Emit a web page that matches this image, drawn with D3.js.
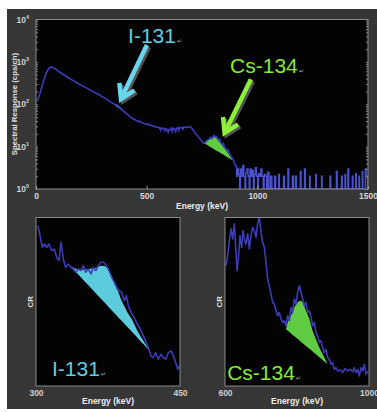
<!DOCTYPE html>
<html>
<head>
<meta charset="utf-8">
<script src="https://cdn.jsdelivr.net/npm/d3@7"></script>
<style>
  body { margin: 0; background: #fff; }
  svg { display: block; }
  text { font-family: "Liberation Sans", Arial, sans-serif; }
</style>
</head>
<body>
<svg id="chart" width="377" height="412"></svg>
<script>
// ---- overview spectrum (keV, cps/ch) ----
const overviewMain = [
  [0,118],[8,128],[15,160],[22,215],[30,300],[38,410],[45,520],[53,640],[60,720],[66,752],[72,748],
  [80,722],[90,670],[100,600],[115,540],[130,478],[150,410],[170,356],[190,310],[210,272],[230,240],
  [250,210],[270,185],[285,170],[295,156],[305,145],[315,136],[325,124],[335,114],[345,106],[352,101],
  [358,99],[364,97],[370,92],[376,86],[384,78],[392,72],[400,66],[408,60],[416,56],[424,52],[432,48],
  [440,45],[448,43],[456,41],[464,39],[470,40],[476,37],[484,36],[492,34.5],[500,33.5],[508,34],
  [514,32],[520,31.5],[528,31],[534,29.5],[540,30],[546,28.5],[552,29],[558,27.5],[563,24.5],
  [567,27.5],[572,26.5],[578,27],[583,23.5],[587,26.5],[592,25.5],[597,22],[601,25.5],[607,25],
  [612,27],[616,23],[620,27.5],[626,26],[631,22.5],[635,27],[640,28],[645,24],[649,28.5],[654,27.5],
  [660,28],[664,25.5],[668,29],[674,28.5],[680,29],[686,28.5],[692,29.5],[698,29],[703,27.5],
  [708,25.5],[713,23.5],[718,21.5],[724,19.5],[730,18],[736,16.5],[742,15],[748,13.5],[754,12.5],
  [760,12],[766,12.8],[772,13.8],[778,14.6],[784,15.3],[790,16.5],[795,15.5],[800,17],[806,18.2],
  [810,16.8],[815,17.2],[820,15.5],[826,14],[830,14.8],[836,12],[842,11.2],[846,11.8],[852,9.5],
  [858,9],[864,7.8],[868,8.2],[874,6.8],[880,6],[886,5.4],[892,4.8],[898,3.8],[902,3.5]
];
const overviewTail = [
  [902,3.5],[906,2],[911,3],[916,2.2],[920,1],[924,3],[929,2],[934,3.6],[939,2],[944,1],[948,2.4],
  [953,3],[958,2],[963,1],[967,3],[972,2],[977,2.8],[982,1],[986,2.2],[991,3.2],[996,2],[1001,1],
  [1005,2.3],[1010,2],[1016,3],[1021,2],[1026,1],[1031,2.2],[1037,2],[1042,1],[1047,2.5],[1053,1],
  [1060,2],[1066,1],[1078,2],[1083,1],[1096,2.2],[1100,1],[1118,2],[1123,1],[1138,3],[1142,1],
  [1158,2],[1163,1],[1172,2],[1177,1],[1194,2.6],[1198,1],[1213,3],[1217,1],[1236,2],[1239,1],
  [1264,2.2],[1267,1],[1290,2],[1293,1],[1328,2],[1332,1],[1357,2.6],[1361,1],[1380,2],[1384,1],
  [1396,2.2],[1399,1],[1409,3],[1413,1],[1429,2],[1432,1],[1444,2.3],[1447,1],[1459,2],[1462,1],
  [1474,2.6],[1477,1],[1488,3],[1492,2],[1497,1],[1500,1]
];
// peak areas on overview: [keV, top, base]
const overviewI131Peak = [
  [354,98,98],[362,99,91],[370,95,85],[378,87,79],[386,78,73],[394,70,68],[402,64,63],[408,60,60]
];
const overviewCs134Peak = [
  [760,12,12],[772,13.8,11],[784,15.2,10.1],[796,16.8,9.3],[806,17.8,8.6],[816,15.8,8],[826,13.8,7.5],
  [836,11.8,7],[846,10,6.5],[856,8.6,6],[866,7.3,5.6],[876,6,5.2],[888,4.8,4.8]
];
const overviewXTicks = [0, 500, 1000, 1500];
const overviewYTicks = [1, 10, 100, 1000, 10000];
// annotations in data units: [keV, cps]
const arrowI131 = [[501, 2500], [384, 133]];
const arrowCs134 = [[971, 390], [852, 21]];
const labelI131 = [416, 2760];
const labelCs134 = [877, 545];

// ---- detail spectra (keV, CR) ----
const i131Detail = [
  [301.7,95.2],[303.1,92.3],[305.2,86.3],[306.6,82.3],[308.7,84.3],[311.1,82.3],[313.5,84.3],
  [316.3,80.4],[319.1,81.3],[321.5,76.4],[324,74.4],[326,85.3],[328.5,75.4],[330.9,70.4],
  [333.7,72.4],[336.5,70.4],[338.9,69.4],[341.3,67.5],[344.1,69.4],[346.9,68.5],[349.3,71.4],
  [351.7,67.5],[354.5,69.4],[357.3,66.5],[359.7,70.4],[362.2,68.5],[364.9,71.4],[367.7,73.4],
  [370.5,73.4],[373.3,71.4],[376.1,68.5],[378.8,64.5],[381.6,61.5],[384,58.5],[386.5,56.5],
  [389.2,55.6],[392,50.6],[394.1,53.6],[396.2,47.6],[399,43.7],[401.4,41.7],[403.8,38.7],
  [406.6,35.7],[409.4,32.7],[411.8,29.8],[414.2,26.8],[417,22.8],[419.8,17.9],[422.2,16.9],
  [424.6,19.8],[427.4,15.9],[430.2,18.8],[432.6,16.9],[435.1,15.9],[437.8,19.8],[440.6,20.8],
  [443.1,17.9],[445.5,13.9],[447.6,9.9],[449.3,11.9]
];
const i131Peak = [
  [335.4,71.4,71.4],[340.6,69.8,68.2],[347.6,69,64],[354.5,69.5,59.8],[361.5,70,55.5],
  [368.4,71.4,51.3],[371.9,71,49.2],[375.3,69,47.1],[378.8,65.5,45],[382.2,60.5,42.9],
  [385.8,55.6,40.7],[389.2,50.6,38.7],[392.7,46.6,36.5],[396.2,42.7,34.4],[399.7,39.7,32.3],
  [403.1,35.7,30.2],[406.6,31.7,28.1],[411.8,26.8,24.9],[418.7,20.8,20.8]
];
const cs134Detail = [
  [602.8,71.4],[607.4,77.4],[612,86.3],[616.7,93.3],[621.3,87.3],[625.9,96.2],[630.6,79.4],
  [633.3,68.5],[637,75.4],[641.7,89.3],[646.3,82.3],[650,92.3],[653.7,87.3],[658.3,84.3],
  [663,90.3],[667.6,81.3],[672.2,89.3],[676.8,94.2],[681.5,92.3],[686.1,88.3],[690.7,96.2],
  [695.4,100.5],[700,91.3],[704.6,85.3],[709.3,82.3],[713.9,73.4],[718.5,63.5],[723.1,59.5],
  [727.8,54.6],[732.4,49.6],[737,48.6],[741.7,44.6],[746.3,41.7],[750.9,43.7],[755.6,39.7],
  [760.2,37.7],[764.8,38.7],[769.4,35.7],[774.1,41.7],[778.7,38.7],[783.3,46.6],[788,43.7],
  [792.6,51.6],[797.2,48.6],[801.9,55.6],[806.5,59.5],[811.1,55.6],[815.7,51.6],[820.4,47.6],
  [825,49.6],[829.6,43.7],[834.3,44.6],[838.9,40.7],[843.5,35.7],[848.1,37.7],[852.8,31.7],
  [857.4,29.8],[862,25.8],[866.7,26.8],[871.3,22.8],[875.9,19.8],[880.6,21.8],[885.2,16.9],
  [889.8,15.9],[894.4,12.9],[899.1,13.9],[903.7,9.9],[908.3,10.9],[913,8.9],[920.4,9.5],
  [926.9,7.9],[933.3,10.3],[940.7,8.9],[948.1,9.9],[954.6,8.3],[959.3,10.9],[963.9,7.9],
  [968.5,9.9],[973.1,6],[977.8,10.9],[982.4,8.9],[987,12.9],[991.7,6.9],[996.3,8.9]
];
const cs134Peak = [
  [769.4,33.7,33.7],[774.1,37.7,32.9],[783.3,41.7,31.2],[792.6,46.6,29.5],[801.9,49.6,27.9],
  [809.3,50.6,26.6],[816.7,49.2,25.2],[825,44.6,23.8],[834.3,39.7,22.1],[843.5,32.7,20.5],
  [852.8,27.8,18.8],[862,22.8,17.1],[871.3,18.8,15.5],[880.6,14.9,13.8],[885.2,12.9,12.9]
];
const i131Ticks = [300, 450];
const cs134Ticks = [600, 1000];
const detailLabelI131 = [316.7, 6];
const detailLabelCs134 = [606, 3.5];

const CYAN = "#62cde0", CYAN_FILL = "#5ccbdc", GREEN = "#88e83c", GREEN_FILL = "#5fcc44";
const LINE = "#3c3cb4";

const svg = d3.select("#chart");

// slide background
svg.append("rect").attr("x", 7).attr("y", 9).attr("width", 370).attr("height", 400).attr("fill", "#363636");

function arrow(g, pts, color, sx, sy) {
  const p0 = [sx(pts[0][0]), sy(pts[0][1])], p1 = [sx(pts[1][0]), sy(pts[1][1])];
  const ang = Math.atan2(p0[1] - p1[1], p0[0] - p1[0]);
  const len = 16, spread = 0.55;
  const a1 = [p1[0] + len * Math.cos(ang - spread), p1[1] + len * Math.sin(ang - spread)];
  const a2 = [p1[0] + len * Math.cos(ang + spread), p1[1] + len * Math.sin(ang + spread)];
  const tipIn = [p1[0] + 3 * Math.cos(ang), p1[1] + 3 * Math.sin(ang)];
  const d = `M${p0}L${tipIn}M${a1}L${p1}L${a2}`;
  g.append("path").attr("d", d).attr("transform", "translate(2,2)")
    .attr("fill", "none").attr("stroke", "#555").attr("stroke-width", 4.5);
  g.append("path").attr("d", d).attr("fill", "none").attr("stroke", color)
    .attr("stroke-width", 4.5).attr("stroke-linejoin", "miter");
}

function label(g, x, y, txt, color) {
  const t = g.append("text").attr("x", x).attr("y", y).attr("fill", color)
    .attr("font-size", 21).text(txt);
  t.append("tspan").attr("font-size", 6).attr("fill", "#b0b0b0").attr("dx", 1).text("\u21b5");
}

// ================= overview =================
{
  const x = d3.scaleLinear().domain([0, 1500]).range([36, 368]);
  const y = d3.scaleLog().domain([1, 10000]).range([189, 19.5]).clamp(true);
  const g = svg.append("g");

  g.append("rect").attr("x", 36).attr("y", 19.5).attr("width", 332).attr("height", 169.5).attr("fill", "#030303");
  svg.append("clipPath").attr("id", "clipTop").append("rect")
    .attr("x", 36).attr("y", 19.5).attr("width", 332).attr("height", 169.5);
  const plot = g.append("g").attr("clip-path", "url(#clipTop)");

  const peakArea = d3.area().x(d => x(d[0])).y0(d => y(d[2])).y1(d => y(d[1])).curve(d3.curveMonotoneX);
  plot.append("path").attr("d", peakArea(overviewI131Peak)).attr("fill", CYAN_FILL);
  plot.append("path").attr("d", peakArea(overviewCs134Peak)).attr("fill", GREEN_FILL);

  const line = d3.line().x(d => x(d[0])).y(d => y(d[1]));
  plot.append("path").attr("d", line(overviewMain)).attr("fill", "none")
    .attr("stroke", LINE).attr("stroke-width", 1.6);
  plot.append("path").attr("d", line.curve(d3.curveStepAfter)(overviewTail)).attr("fill", "none")
    .attr("stroke", "#4a52cc").attr("stroke-width", 1.3);

  // minor ticks on both sides
  const minor = y.ticks();
  g.append("g").attr("transform", "translate(36,0)")
    .call(d3.axisRight(y).tickValues(minor).tickSize(2).tickFormat(""))
    .call(a => a.select(".domain").remove())
    .selectAll("line").attr("stroke", "#888");
  g.append("g").attr("transform", "translate(368,0)")
    .call(d3.axisLeft(y).tickValues(minor).tickSize(2).tickFormat(""))
    .call(a => a.select(".domain").remove())
    .selectAll("line").attr("stroke", "#888");

  g.append("rect").attr("x", 36).attr("y", 19.5).attr("width", 332).attr("height", 169.5)
    .attr("fill", "none").attr("stroke", "#8a8a8a").attr("stroke-width", 1);

  const yAxis = g.append("g").attr("transform", "translate(36,0)")
    .call(d3.axisLeft(y).tickValues(overviewYTicks).tickSize(0).tickPadding(7).tickFormat(() => "10"));
  yAxis.select(".domain").remove();
  yAxis.selectAll(".tick text").attr("fill", "#d0d0d0").attr("font-size", 8.5).attr("font-weight", "bold")
    .append("tspan").attr("dy", -4).attr("font-size", 5.5).text(d => Math.round(Math.log10(d)));

  const xAxis = g.append("g").attr("transform", "translate(0,189)")
    .call(d3.axisBottom(x).tickValues(overviewXTicks).tickFormat(d3.format("d"))
      .tickSizeInner(-3).tickSizeOuter(0).tickPadding(4));
  xAxis.select(".domain").remove();
  xAxis.selectAll("line").attr("stroke", "#999");
  xAxis.selectAll("text").attr("fill", "#d8d8d8").attr("font-size", 8.5).attr("font-weight", "bold");

  g.append("text").attr("x", 202).attr("y", 209).attr("text-anchor", "middle")
    .attr("fill", "#ececec").attr("font-size", 8.5).attr("font-weight", "bold").text("Energy (keV)");
  g.append("text").attr("transform", "translate(16.5,104) rotate(-90)").attr("text-anchor", "middle")
    .attr("fill", "#e0e0e0").attr("font-size", 7.8).attr("font-weight", "bold").text("Spectral Response (cps/ch)");

  arrow(g, arrowI131, "#6ad6ee", x, y);
  arrow(g, arrowCs134, "#8cf03a", x, y);
  label(g, x(labelI131[0]), y(labelI131[1]), "I-131", CYAN);
  label(g, x(labelCs134[0]), y(labelCs134[1]), "Cs-134", GREEN);
}

// ================= detail panels =================
function detail(id, left, domain, ticks, spectrum, peak, fill, labelPos, labelText, labelColor) {
  const top = 217.5, bottom = 386, right = left + 144;
  const x = d3.scaleLinear().domain(domain).range([left, right]);
  const y = d3.scaleLinear().domain([0, 100]).range([bottom, top]);
  const g = svg.append("g");

  g.append("rect").attr("x", left).attr("y", top).attr("width", 144).attr("height", bottom - top).attr("fill", "#030303");
  svg.append("clipPath").attr("id", id).append("rect")
    .attr("x", left).attr("y", top).attr("width", 144).attr("height", bottom - top);
  const plot = g.append("g").attr("clip-path", `url(#${id})`);

  const area = d3.area().x(d => x(d[0])).y0(d => y(d[2])).y1(d => y(d[1])).curve(d3.curveMonotoneX);
  plot.append("path").attr("d", area(peak)).attr("fill", fill);
  const line = d3.line().x(d => x(d[0])).y(d => y(d[1]));
  plot.append("path").attr("d", line(spectrum)).attr("fill", "none")
    .attr("stroke", LINE).attr("stroke-width", 1.6).attr("stroke-linejoin", "round");

  g.append("rect").attr("x", left).attr("y", top).attr("width", 144).attr("height", bottom - top)
    .attr("fill", "none").attr("stroke", "#8a8a8a").attr("stroke-width", 1);

  const xAxis = g.append("g").attr("transform", `translate(0,${bottom})`)
    .call(d3.axisBottom(x).tickValues(ticks).tickFormat(d3.format("d")).tickSize(0).tickPadding(4));
  xAxis.select(".domain").remove();
  xAxis.selectAll("text").attr("fill", "#cfcfcf").attr("font-size", 8.5).attr("font-weight", "bold");

  g.append("text").attr("x", (left + right) / 2).attr("y", 404).attr("text-anchor", "middle")
    .attr("fill", "#ececec").attr("font-size", 8.5).attr("font-weight", "bold").text("Energy (keV)");
  g.append("text").attr("transform", `translate(${left - 3.5},${(top + bottom) / 2}) rotate(-90)`)
    .attr("text-anchor", "middle").attr("fill", "#e0e0e0").attr("font-size", 7.8)
    .attr("font-weight", "bold").text("CR");

  label(g, x(labelPos[0]), y(labelPos[1]), labelText, labelColor);
}

detail("clipI", 36, [300, 450], i131Ticks, i131Detail, i131Peak, CYAN_FILL, detailLabelI131, "I-131", CYAN);
detail("clipCs", 225, [600, 1000], cs134Ticks, cs134Detail, cs134Peak, GREEN_FILL, detailLabelCs134, "Cs-134", GREEN);
</script>
</body>
</html>
